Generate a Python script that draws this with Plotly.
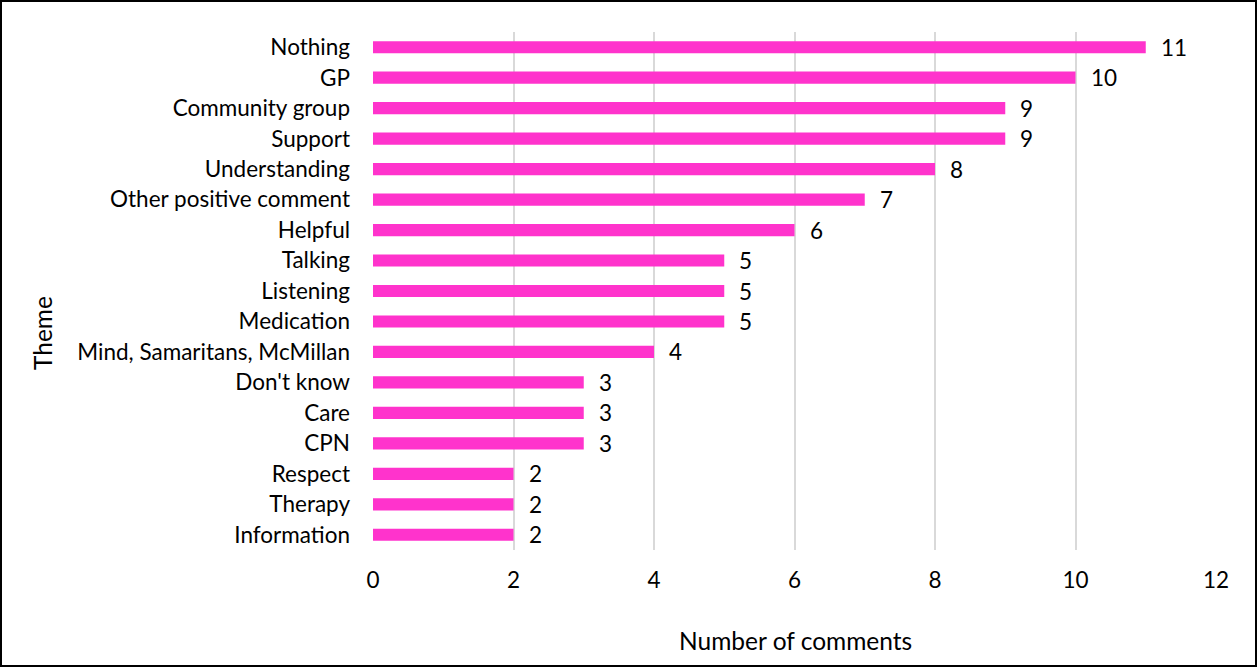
import plotly.graph_objects as go

themes = ["Nothing", "GP", "Community group", "Support", "Understanding",
          "Other positive comment", "Helpful", "Talking", "Listening", "Medication",
          "Mind, Samaritans, McMillan", "Don't know", "Care", "CPN", "Respect",
          "Therapy", "Information"]
counts = [11, 10, 9, 9, 8, 7, 6, 5, 5, 5, 4, 3, 3, 3, 2, 2, 2]
x_ticks = [0, 2, 4, 6, 8, 10, 12]

W, H = 1258, 668
ML, MR, MT, MB = 373, 42, 32, 118
PW, PH = W - ML - MR, H - MT - MB

FONT = dict(family="Lato, Carlito, sans-serif", size=22.5, color="#000000")
TITLE_FONT = dict(family="Lato, Carlito, sans-serif", size=24.5, color="#000000")


def px_x(p):
    return (p - ML) / PW


def px_y(p):
    return (PH + MT - p) / PH


fig = go.Figure(go.Bar(
    x=counts, y=themes, orientation="h",
    marker=dict(color="#FF33CC", line=dict(width=0)),
    width=0.4, hoverinfo="skip",
))

# value labels to the right of each bar
for t, c in zip(themes, counts):
    fig.add_annotation(x=c, y=t, text=str(c), showarrow=False,
                       xanchor="left", xshift=13, font=FONT)

# axis titles
fig.add_annotation(xref="paper", yref="paper", x=px_x(795), y=px_y(640),
                   text="Number of comments", showarrow=False,
                   xanchor="center", yanchor="middle", font=TITLE_FONT)
fig.add_annotation(xref="paper", yref="paper", x=px_x(42), y=px_y(333),
                   text="Theme", textangle=-90, showarrow=False,
                   xanchor="center", yanchor="middle", font=TITLE_FONT)

# outer frame around the whole chart
fig.add_shape(type="rect", xref="paper", yref="paper",
              x0=px_x(1), x1=px_x(W - 2), y0=px_y(H - 2), y1=px_y(1),
              line=dict(color="#000000", width=2), fillcolor="rgba(0,0,0,0)")

fig.update_layout(
    width=W, height=H,
    margin=dict(l=ML, r=MR, t=MT, b=MB, pad=0),
    paper_bgcolor="white", plot_bgcolor="white",
    font=FONT, showlegend=False,
    xaxis=dict(range=[0, 12], tickvals=x_ticks, showgrid=True,
               gridcolor="#D9D9D9", gridwidth=2, zeroline=False,
               showline=False, ticks="", ticklen=0, ticklabelstandoff=14),
    yaxis=dict(categoryorder="array", categoryarray=themes[::-1],
               range=[-0.5, len(themes) - 0.5], showgrid=False,
               zeroline=False, showline=False, ticks="", ticklen=0,
               ticklabelstandoff=22),
)

fig.write_html("out.html")
